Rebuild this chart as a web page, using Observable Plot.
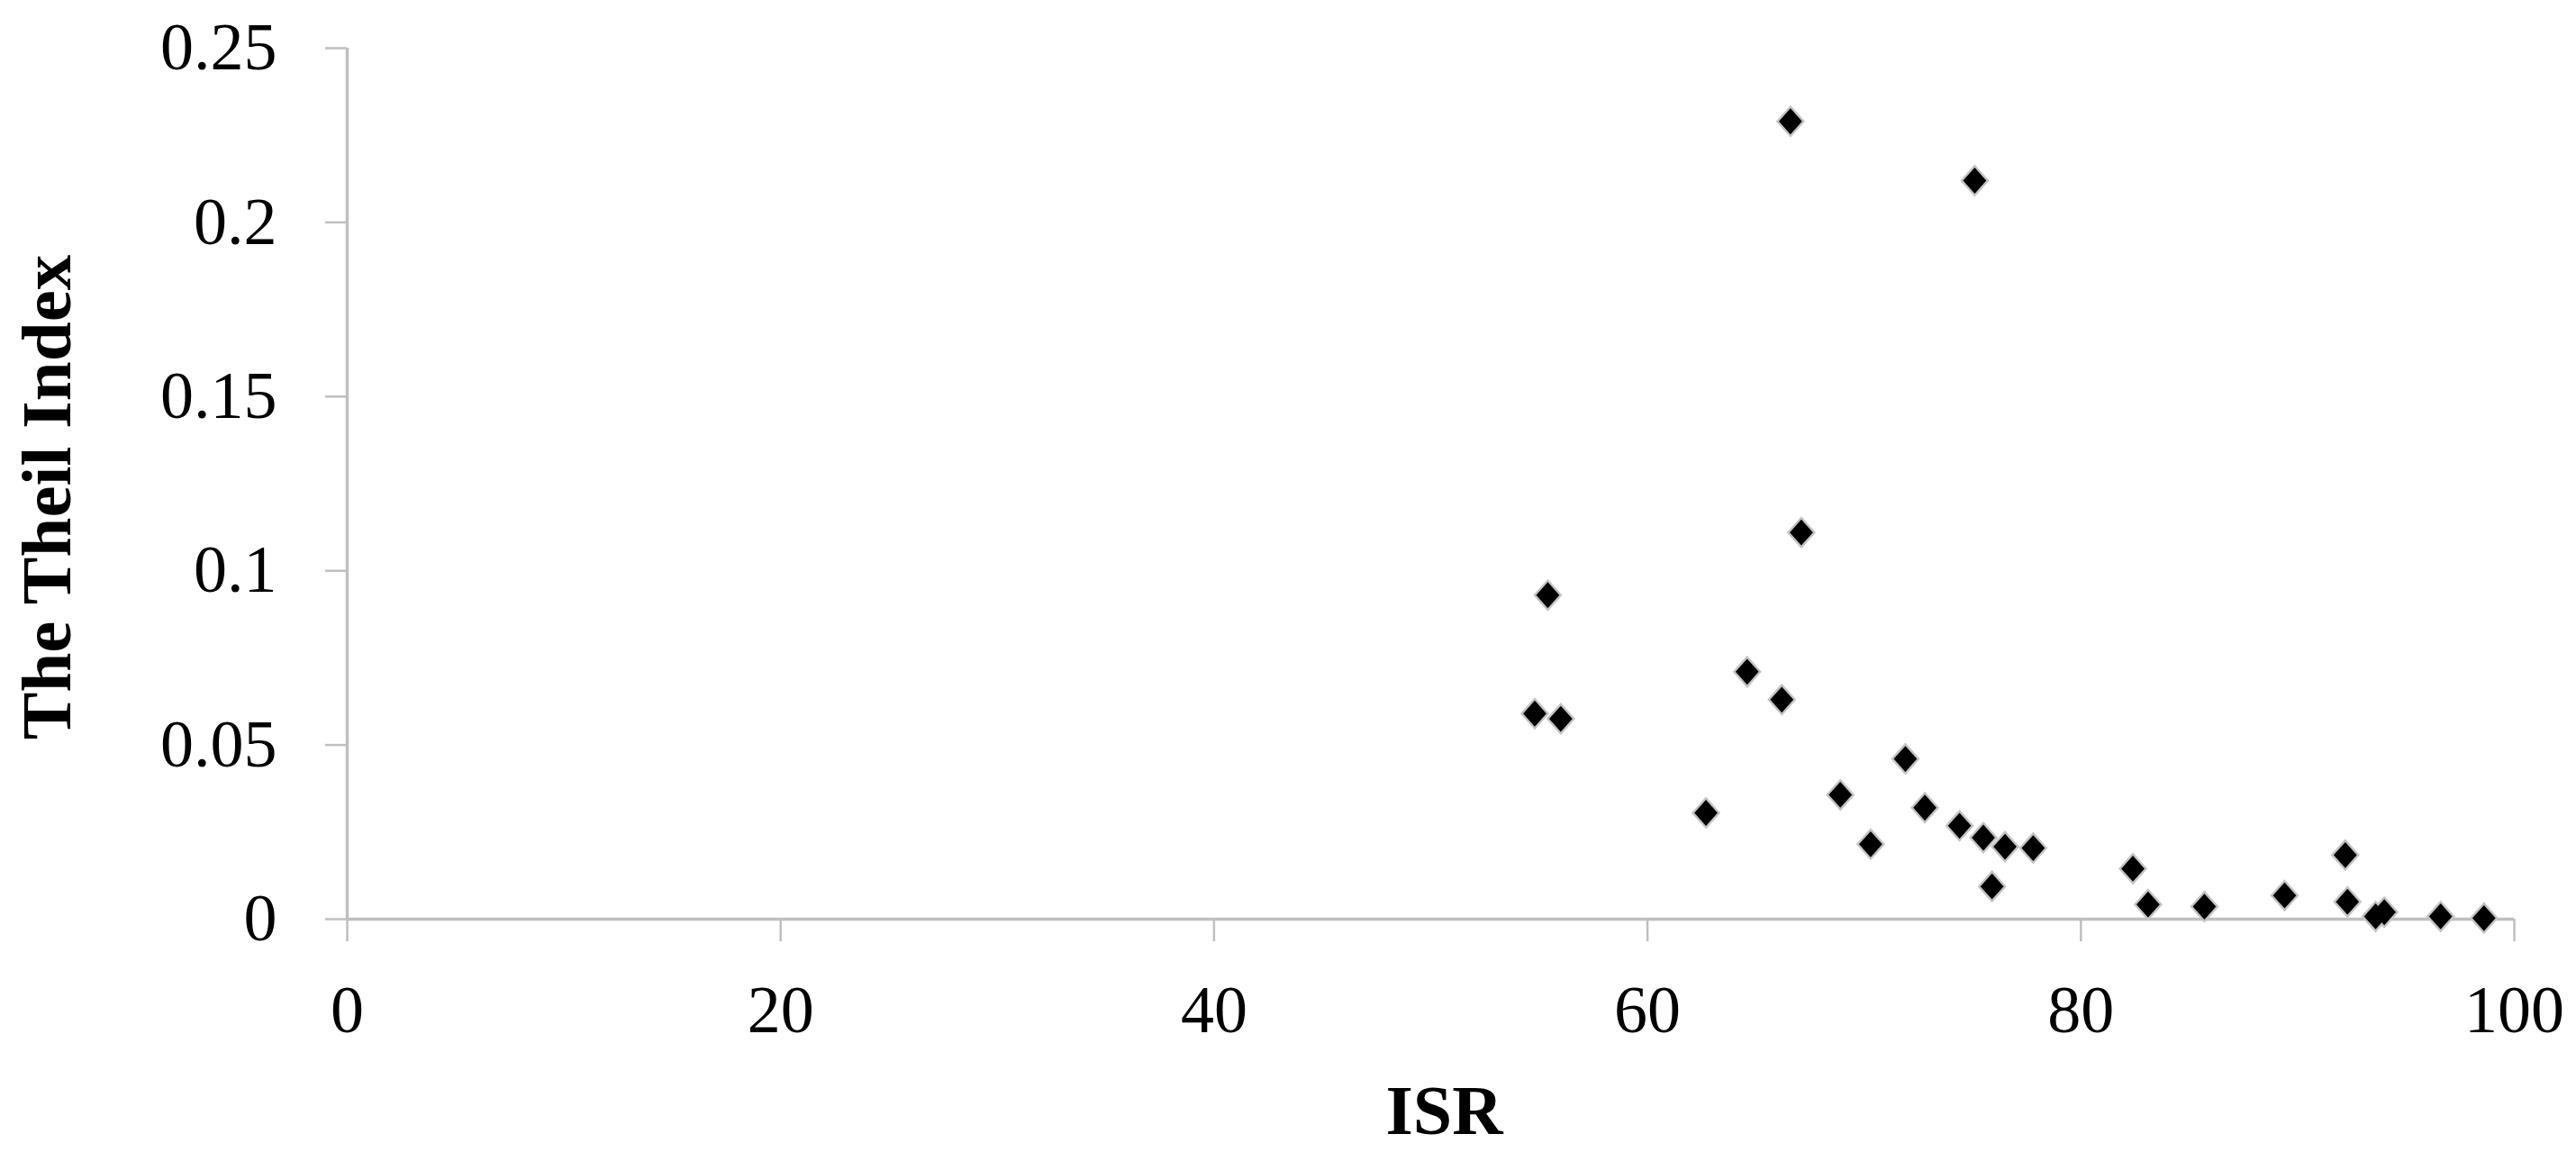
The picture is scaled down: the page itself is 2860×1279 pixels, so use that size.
<!DOCTYPE html>
<html>
<head>
<meta charset="utf-8">
<script src="https://cdn.jsdelivr.net/npm/d3@7"></script>
<script src="https://cdn.jsdelivr.net/npm/@observablehq/plot@0.6"></script>
<style>
  html, body { margin: 0; padding: 0; background: #fff; }
  svg { display: block; }
</style>
</head>
<body>
<div id="chart"></div>
<script>
// Data
const isr   = [66.6, 75.1, 67.1, 55.4, 54.8, 56.0, 64.6, 66.2, 62.7, 71.9, 68.9, 70.3, 72.8, 74.4, 75.5, 76.5, 77.8, 75.9, 82.4, 83.1, 85.7, 89.4, 92.2, 92.3, 94.0, 93.6, 96.6, 98.6];
const theil = [0.229, 0.212, 0.111, 0.093, 0.059, 0.0575, 0.071, 0.063, 0.0305, 0.046, 0.0357, 0.0215, 0.032, 0.0268, 0.0234, 0.0208, 0.0204, 0.0094, 0.0145, 0.0042, 0.0036, 0.0068, 0.0184, 0.005, 0.002, 0.0008, 0.0008, 0.0003];
const xTicks = [0, 20, 40, 60, 80, 100];
const yTicks = [0, 0.05, 0.1, 0.15, 0.2, 0.25];
const xTitle = "ISR";
const yTitle = "The Theil Index";

const data = isr.map((v, i) => ({isr: v, theil: theil[i]}));

// rhombus symbol, scaled by size (r)
const rhombus = {
  draw(ctx, size) {
    const r = Math.sqrt(size / Math.PI);
    const h = r * 1.03, w = r * 0.92;
    ctx.moveTo(0, -h); ctx.lineTo(w, 0); ctx.lineTo(0, h); ctx.lineTo(-w, 0); ctx.closePath();
  }
};

const axisGray = "#bfbfbf";
const serif = "'Liberation Serif', 'DejaVu Serif', serif";

const chart = Plot.plot({
  width: 2860,
  height: 1279,
  marginLeft: 385,
  marginRight: 69,
  marginTop: 53,
  marginBottom: 259,
  style: {fontFamily: serif, background: "#fff", color: "#000"},
  x: {domain: [0, 100]},
  y: {domain: [0, 0.25]},
  marks: [
    Plot.ruleY([0], {stroke: axisGray, strokeWidth: 3.5}),
    Plot.ruleX([0], {stroke: axisGray, strokeWidth: 3.5}),
    Plot.axisY({ticks: yTicks, tickSize: 24, tickPadding: 54, tickFormat: d => String(d), label: null,
      stroke: axisGray, strokeWidth: 2.5, fill: "#000", fontSize: 74}),
    Plot.axisX({ticks: xTicks, tickSize: 25, tickPadding: 48, tickFormat: d => String(d), label: null,
      stroke: axisGray, strokeWidth: 2.5, fill: "#000", fontSize: 74}),
    Plot.text([yTitle], {frameAnchor: "left", dx: -333, dy: 15, rotate: -90, text: d => d,
      fontSize: 79, fontWeight: "bold", fill: "#000", textAnchor: "middle", lineAnchor: "middle"}),
    Plot.text([xTitle], {frameAnchor: "bottom", dx: 15, dy: 214, text: d => d,
      fontSize: 78, fontWeight: "bold", fill: "#000", textAnchor: "middle", lineAnchor: "middle"}),
    Plot.dot(data, {x: "isr", y: "theil", symbol: rhombus, r: 17.5, fill: "#c4c4c4", stroke: "none"}),
    Plot.dot(data, {x: "isr", y: "theil", symbol: rhombus, r: 14, fill: "#000", stroke: "none"})
  ]
});

document.getElementById("chart").appendChild(chart);
</script>
</body>
</html>
